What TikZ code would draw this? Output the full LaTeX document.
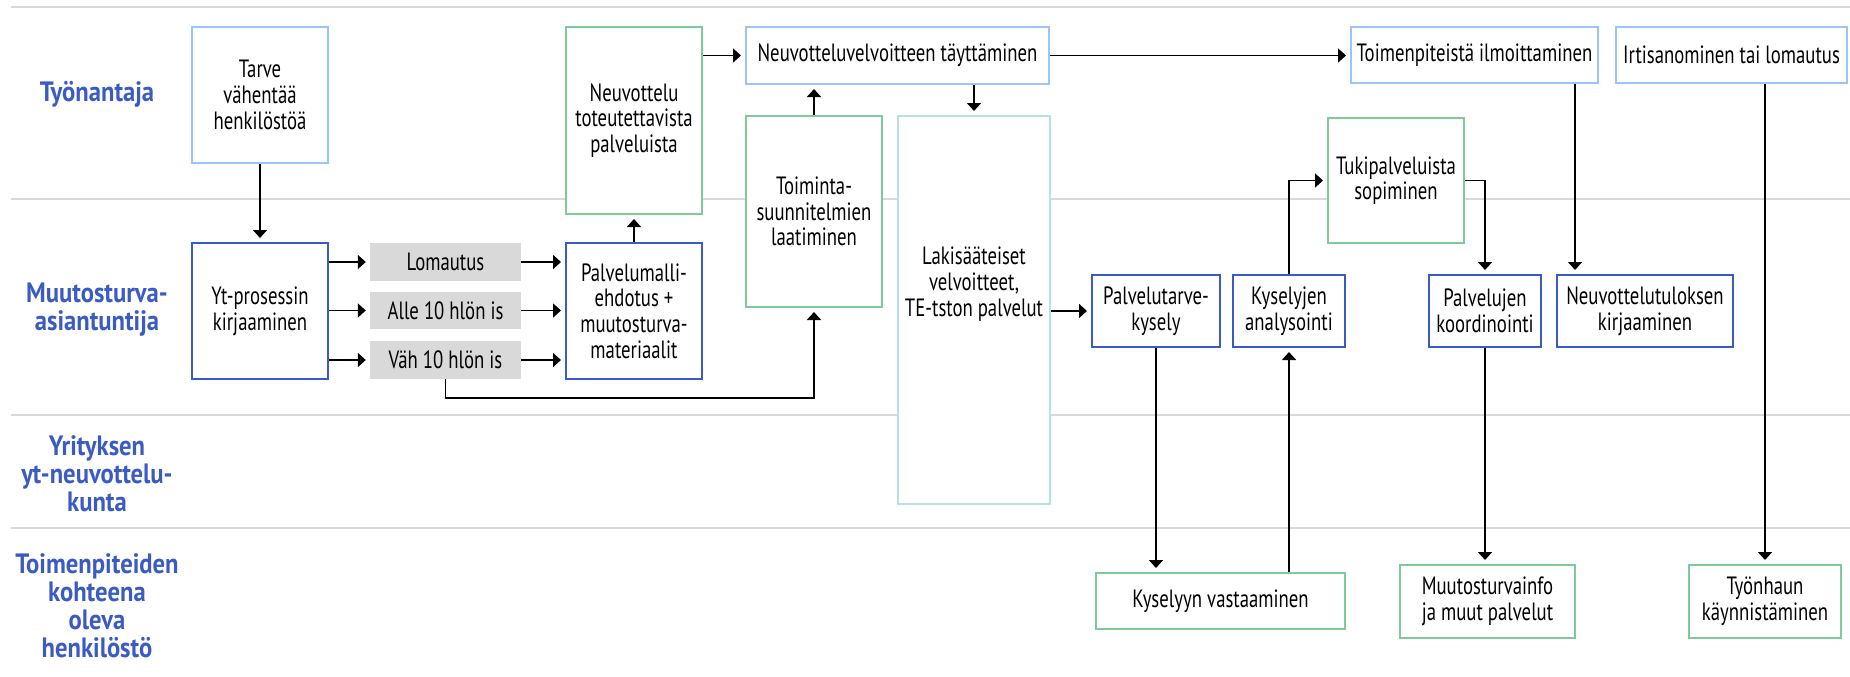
\documentclass[tikz,border=0pt]{standalone}
\usepackage{fontspec}
\setmainfont{PT Sans}[FakeStretch=0.75]
\newfontfamily\lanefont{PT Sans}[FakeStretch=0.88]
\usetikzlibrary{arrows.meta}
\definecolor{dblue}{HTML}{3A5BC7}
\definecolor{lblue}{HTML}{9CC3FC}
\definecolor{grn}{HTML}{7FCA9B}
\definecolor{tealx}{HTML}{B3E4E2}
\definecolor{gry}{HTML}{D9D9D9}
\definecolor{lanec}{HTML}{3A5BC4}
\begin{document}
\begin{tikzpicture}[x=1pt,y=-1pt,
  every node/.style={font=\fontsize{25}{25.7}\selectfont, align=center, inner sep=0pt},
  box/.style={draw, line width=2pt, fill=white, rectangle},
  dbox/.style={box, draw=dblue},
  lbox/.style={box, draw=lblue},
  gbox/.style={box, draw=grn},
  tbox/.style={box, draw=tealx},
  greybox/.style={fill=gry, rectangle},
  lane/.style={font=\lanefont\bfseries\fontsize{28}{28}\selectfont, text=lanec},
  conn/.style={line width=1.6pt, -{Triangle[width=14pt,length=8pt]}, shorten >=4pt},
  sepline/.style={draw=gry, line width=2pt}]
\useasboundingbox (0,0) rectangle (1850,677);
% lane separators
\draw[sepline] (11,7) -- (1850,7);
\draw[sepline] (11,199) -- (1850,199);
\draw[sepline] (11,415) -- (1850,415);
\draw[sepline] (11,528) -- (1850,528);
% lane labels
\node[lane] (l1) at (97,94) {Työnantaja};
\node[lane] (l2) at (97,310) {Muutosturva-\\asiantuntija};
\node[lane] (l3) at (97,474) {Yrityksen\\yt-neuvottelu-\\kunta};
\node[lane] (l4) at (97,606) {Toimenpiteiden\\kohteena\\oleva\\henkilöstö};
% boxes
\node[lbox, minimum width=136pt, minimum height=136pt] (tarve) at (260,95) {Tarve\\vähentää\\henkilöstöä};
\node[dbox, minimum width=136pt, minimum height=136pt] (yt) at (260,311) {Yt-prosessin\\kirjaaminen};
\node[greybox, minimum width=151pt, minimum height=38pt] (lom) at (445.5,262) {Lomautus};
\node[greybox, minimum width=151pt, minimum height=37pt] (alle) at (445.5,310.5) {Alle 10 hlön is};
\node[greybox, minimum width=151pt, minimum height=38pt] (vah) at (445.5,360) {Väh 10 hlön is};
\node[dbox, minimum width=136pt, minimum height=136pt] (pm) at (634,311) {Palvelumalli-\\ehdotus +\\muutosturva-\\materiaalit};
\node[gbox, minimum width=136pt, minimum height=187pt] (neu) at (634,120.5) {Neuvottelu\\toteutettavista\\palveluista};
\node[lbox, minimum width=303pt, minimum height=57pt] (nv) at (897.5,55.5) {Neuvotteluvelvoitteen täyttäminen};
\node[gbox, minimum width=136pt, minimum height=191pt] (toim) at (814,211.5) {Toiminta-\\suunnitelmien\\laatiminen};
\node[tbox, minimum width=152pt, minimum height=388pt] (lak) at (974,310) {};
\node (lakt) at (974,284) {Lakisääteiset\\velvoitteet,\\TE-tston palvelut};
\node[dbox, minimum width=128pt, minimum height=72pt] (pt) at (1156,311) {Palvelutarve-\\kysely};
\node[dbox, minimum width=112pt, minimum height=72pt] (kj) at (1289,311) {Kyselyjen\\analysointi};
\node[gbox, minimum width=136pt, minimum height=125pt] (tuki) at (1396,180.5) {Tukipalveluista\\sopiminen};
\node[dbox, minimum width=112pt, minimum height=72pt] (pk) at (1485,311) {Palvelujen\\koordinointi};
\node[dbox, minimum width=176pt, minimum height=72pt] (ntk) at (1645,311) {Neuvottelutuloksen\\kirjaaminen};
\node[lbox, minimum width=247pt, minimum height=56pt] (tm) at (1474.5,55) {Toimenpiteistä ilmoittaminen};
\node[lbox, minimum width=231pt, minimum height=56pt] (irt) at (1731.5,55) {Irtisanominen tai lomautus};
\node[gbox, minimum width=249pt, minimum height=56pt] (ky) at (1220.5,601) {Kyselyyn vastaaminen};
\node[gbox, minimum width=175pt, minimum height=73pt] (mi) at (1487.5,601.5) {Muutosturvainfo\\ja muut palvelut};
\node[gbox, minimum width=152pt, minimum height=73pt] (ty) at (1765,601.5) {Työnhaun\\käynnistäminen};
% helper coordinates
\coordinate (vbend) at (445.5,398);
\coordinate (tmx) at (1575,0);
% connectors
\draw[conn] (tarve.south) -- (yt.north);
\draw[conn] (yt.east |- lom) -- (lom.west);
\draw[conn] (yt.east |- alle) -- (alle.west);
\draw[conn] (yt.east |- vah) -- (vah.west);
\draw[conn] (lom.east) -- (pm.west |- lom);
\draw[conn] (alle.east) -- (pm.west |- alle);
\draw[conn] (vah.east) -- (pm.west |- vah);
\draw[conn] (pm.north) -- (neu.south);
\draw[conn] (vah.south) -- (vbend) -| (toim.south);
\draw[conn] (neu.east |- nv) -- (nv.west);
\draw[conn] (toim.north) -- (toim.north |- nv.south);
\draw[conn] (nv.south -| lak) -- (lak.north);
\draw[conn] (nv.east) -- (nv.east -| tm.west);
\draw[conn] (lak.east |- pt) -- (pt.west);
\draw[conn] (pt.south) -- (pt.south |- ky.north);
\draw[conn] (ky.north -| kj) -- (kj.south);
\draw[conn] (kj.north) |- (tuki.west);
\draw[conn] (tuki.east) -| (pk.north);
\draw[conn] (tm.south -| tmx) -- (ntk.north -| tmx);
\draw[conn] (pk.south) -- (pk.south |- mi.north);
\draw[conn] (irt.south -| ty) -- (ty.north);
\end{tikzpicture}
\end{document}
